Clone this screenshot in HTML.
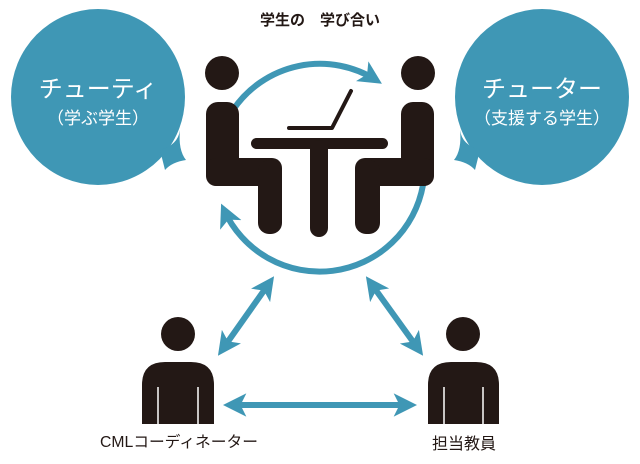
<!DOCTYPE html>
<html><head><meta charset="utf-8"><style>
html,body{margin:0;padding:0;background:#fff;}
svg{display:block}
text{font-family:"Liberation Sans","Noto Sans CJK JP",sans-serif;}
</style></head><body>
<svg width="640" height="464" viewBox="0 0 640 464" xmlns="http://www.w3.org/2000/svg">
<defs>
<marker id="ah" viewBox="0 0 10 10" refX="7" refY="5" markerWidth="3.9" markerHeight="3.9" orient="auto-start-reverse"><path d="M0,0 L10,5 L0,10 L2.5,5 z" fill="#3f97b5"/></marker>
</defs>
<g fill="#3f97b5">
<ellipse cx="98" cy="97" rx="87" ry="88"/>
<path d="M160,150 Q178,145 180,130 Q178,150 186,160 Q172,162 165,170 Z"/>
<ellipse cx="542" cy="97" rx="87" ry="88"/>
<path d="M480,150 Q462,145 460,130 Q462,150 454,160 Q468,162 475,170 Z"/>
</g>
<text x="98" y="97" fill="#fff" font-size="24" text-anchor="middle">チューティ</text>
<text x="98" y="124" fill="#fff" font-size="17" text-anchor="middle">（学ぶ学生）</text>
<text x="542" y="97" fill="#fff" font-size="24" text-anchor="middle">チューター</text>
<text x="542" y="124" fill="#fff" font-size="17" text-anchor="middle">（支援する学生）</text>
<text x="320" y="25" fill="#231815" font-size="15" font-weight="bold" text-anchor="middle">学生の　学び合い</text>
<g fill="none" stroke="#3f97b5" stroke-width="6">
<path d="M233,110 A105,105 0 0 1 376,80" marker-end="url(#ah)"/>
<path d="M423,185 A105,105 0 0 1 224,210" marker-end="url(#ah)"/>
<line x1="222" y1="350" x2="270" y2="282" marker-start="url(#ah)" marker-end="url(#ah)"/>
<line x1="370" y1="282" x2="419" y2="350" marker-start="url(#ah)" marker-end="url(#ah)"/>
<line x1="230" y1="405" x2="410" y2="405" marker-start="url(#ah)" marker-end="url(#ah)"/>
</g>
<g fill="#231815">
<circle cx="222" cy="73" r="17"/>
<rect x="206" y="102" width="33" height="84" rx="12"/>
<rect x="206" y="158" width="76" height="28" rx="10"/>
<rect x="258" y="160" width="24" height="74" rx="11"/>
<circle cx="418" cy="73" r="17"/>
<rect x="401" y="102" width="33" height="84" rx="12"/>
<rect x="355" y="158" width="79" height="28" rx="10"/>
<rect x="355" y="160" width="25" height="74" rx="11"/>
<rect x="251" y="138" width="137" height="11" rx="5.5"/>
<rect x="310" y="140" width="18" height="97" rx="9"/>
</g>
<path d="M289,128 L332,128 L351,91" fill="none" stroke="#231815" stroke-width="4" stroke-linecap="round" stroke-linejoin="round"/>
<g fill="#231815">
<circle cx="178" cy="334" r="17"/>
<path d="M142,424 V385 Q142,362 165,362 H191 Q214,362 214,385 V424 Z"/>
<circle cx="463" cy="334" r="17"/>
<path d="M428,424 V385 Q428,362 451,362 H476 Q499,362 499,385 V424 Z"/>
</g>
<g stroke="#fff" stroke-width="1.5">
<line x1="158" y1="387" x2="158" y2="425"/><line x1="198" y1="387" x2="198" y2="425"/>
<line x1="444" y1="387" x2="444" y2="425"/><line x1="483" y1="387" x2="483" y2="425"/>
</g>
<text x="100" y="447" fill="#231815" font-size="15.5" textLength="158" lengthAdjust="spacingAndGlyphs">CMLコーディネーター</text>
<text x="464" y="449" fill="#231815" font-size="16" text-anchor="middle">担当教員</text>
</svg>
</body></html>
